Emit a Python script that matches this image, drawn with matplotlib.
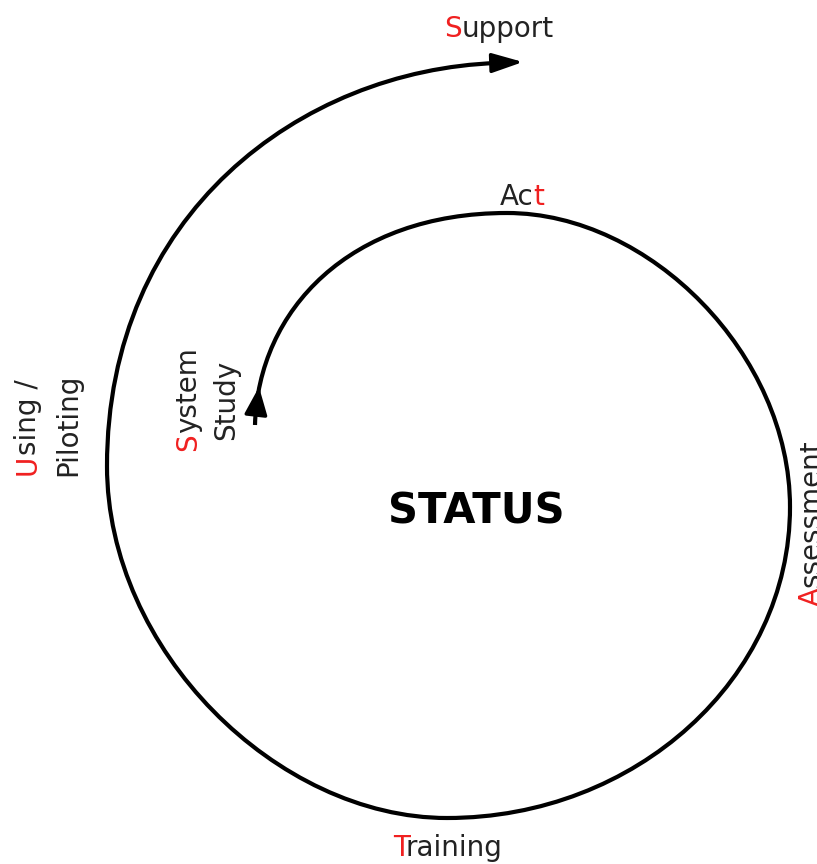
import matplotlib
matplotlib.use("Agg")
import matplotlib.pyplot as plt
from matplotlib.path import Path
from matplotlib.patches import PathPatch

# spiral drawn as cubic bezier pieces (pixel space of the picture, y down)
# start point, then 3 points per piece: handle, handle, anchor
spiral_x = [255, 258, 350, 507, 650, 790, 790, 790, 636, 447, 277, 107, 107, 107, 300, 497]
spiral_y = [425, 310, 213, 213, 213, 355, 507, 678, 818, 818, 818, 650, 466, 215, 70, 63]

# arrow heads: (from, to)
start_arrow = [(256, 414), (259, 387)]
end_arrow = [(492, 63), (523, 62)]

# stage labels: text, anchor x, anchor y, rotation, index of red letter
labels = ["Support", "Act", "Assessment", "Training", "Using /", "Piloting", "System", "Study"]
label_x = [444, 500, 820, 393, 36, 76, 196, 234]
label_y = [37, 205, 606, 856, 475, 476, 451, 440]
label_rot = [0, 0, 90, 0, 90, 90, 90, 90]
red_letter = [0, 2, 0, 0, 0, None, 0, None]

center_text = "STATUS"

fig = plt.figure(figsize=(8.17, 8.64), dpi=100)
ax = fig.add_axes([0, 0, 1, 1])
ax.set_xlim(0, 817)
ax.set_ylim(864, 0)
ax.axis("off")

codes = [Path.MOVETO] + [Path.CURVE4] * (len(spiral_x) - 1)
path = Path(list(zip(spiral_x, spiral_y)), codes)
ax.add_patch(PathPatch(path, facecolor="none", edgecolor="black", lw=3, capstyle="butt"))

ax.annotate("", xy=start_arrow[1], xytext=start_arrow[0],
            arrowprops=dict(arrowstyle="-|>,head_length=1.7,head_width=0.7",
                            mutation_scale=10, color="black", lw=2.5,
                            shrinkA=0, shrinkB=0))
ax.annotate("", xy=end_arrow[1], xytext=end_arrow[0],
            arrowprops=dict(arrowstyle="-|>,head_length=1.9,head_width=0.6",
                            mutation_scale=10, color="black", lw=2.5,
                            shrinkA=0, shrinkB=0))

txt_col = "#222222"
red = "#f02020"
fs = 20
renderer = fig.canvas.get_renderer()


def width(s):
    # text width in pixels (= data units here)
    t = ax.text(0, 0, s, fontsize=fs)
    w = t.get_window_extent(renderer).width
    t.remove()
    return w


for i in range(len(labels)):
    s = labels[i]
    r = red_letter[i]
    if r is None:
        pieces = [(0, len(s), txt_col)]
    else:
        pieces = [(0, r, txt_col), (r, r + 1, red), (r + 1, len(s), txt_col)]
    full = width(s)
    for a, b, col in pieces:
        if a == b:
            continue
        off = full - width(s[a:]) if a > 0 else 0
        if label_rot[i] == 90:
            x, y = label_x[i], label_y[i] - off
        else:
            x, y = label_x[i] + off, label_y[i]
        ax.text(x, y, s[a:b], color=col, fontsize=fs, rotation=label_rot[i],
                rotation_mode="anchor", ha="left", va="baseline")

ax.text(476.5, 523, center_text, fontsize=30, fontweight="bold", color="black",
        ha="center", va="baseline")

fig.savefig("out.png", dpi=100)
